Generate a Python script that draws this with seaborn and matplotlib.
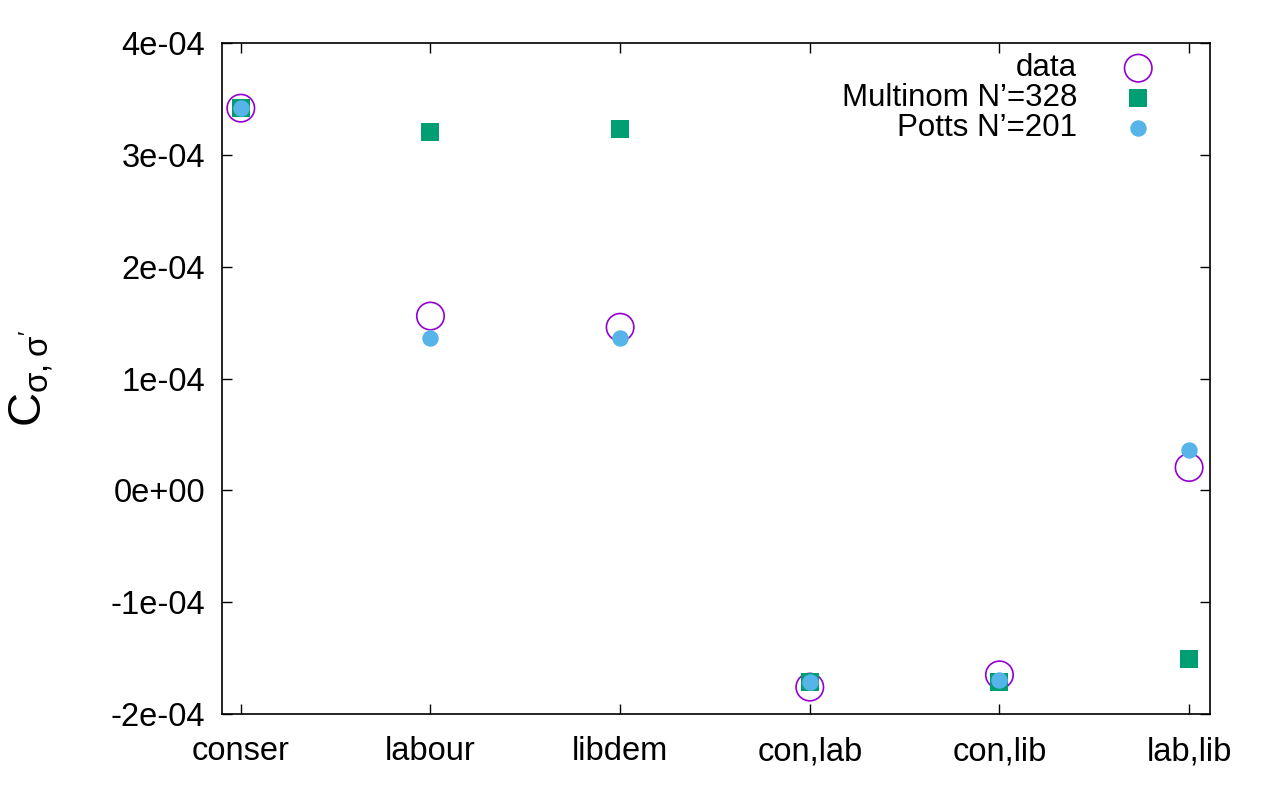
import numpy as np
import pandas as pd
import seaborn as sns
import matplotlib.pyplot as plt
from matplotlib.ticker import FormatStrFormatter

categories = ['conser', 'labour', 'libdem', 'con,lab', 'con,lib', 'lab,lib']
data_vals = [3.42e-4, 1.56e-4, 1.46e-4, -1.76e-4, -1.65e-4, 0.205e-4]
multinom_vals = [3.42e-4, 3.21e-4, 3.23e-4, -1.71e-4, -1.71e-4, -1.51e-4]
potts_vals = [3.42e-4, 1.36e-4, 1.36e-4, -1.71e-4, -1.70e-4, 0.36e-4]

sns.set_style('ticks')
plt.rcParams['font.family'] = ['Liberation Sans', 'DejaVu Sans']
plt.rcParams.update({'text.color': 'black', 'axes.labelcolor': 'black',
                     'xtick.color': 'black', 'ytick.color': 'black',
                     'axes.edgecolor': 'black'})

fig = plt.figure(figsize=(12.75, 7.88), dpi=100)
ax = fig.add_axes([0.174, 0.094, 0.775, 0.851])

x = np.arange(len(categories))
sns.scatterplot(x=x, y=data_vals, ax=ax, marker='o', s=390, facecolors='none',
                edgecolor='#9400d3', linewidth=1.2, label='data', zorder=2)
sns.scatterplot(x=x, y=multinom_vals, ax=ax, marker='s', s=150, color='#009e73',
                linewidth=0, label='Multinom N’=328', zorder=3)
sns.scatterplot(x=x, y=potts_vals, ax=ax, marker='o', s=140, color='#56b4e9',
                linewidth=0, label='Potts N’=201', zorder=4)

ax.set_xlim(-0.1, 5.11)
ax.set_ylim(-2e-4, 4e-4)
ax.set_xticks(x)
ax.set_xticklabels(categories)
ax.set_yticks(np.arange(-2e-4, 4.01e-4, 1e-4))
ax.yaxis.set_major_formatter(FormatStrFormatter('%.0e'))
ax.tick_params(direction='in', top=True, right=True, labelsize=23.5, length=7, width=1)
ax.tick_params(axis='x', pad=16)
ax.tick_params(axis='y', pad=12)
for sp in ax.spines.values():
    sp.set_linewidth(1.2)
ax.set_ylabel(r"$\mathregular{C_{\sigma,\sigma'}}$", fontsize=34, labelpad=39)

leg = ax.legend(loc='upper right', frameon=False, markerfirst=False, fontsize=22.5,
                handletextpad=0.95, labelspacing=0.0, borderaxespad=0.2,
                bbox_to_anchor=(0.978, 1.013))
for t in leg.get_texts():
    t.set_ha('right')

fig.savefig('out.png', dpi=100)
